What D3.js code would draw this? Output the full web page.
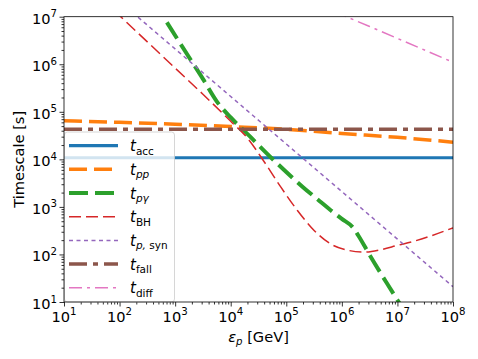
<!DOCTYPE html>
<html>
<head>
<meta charset="utf-8">
<script src="https://cdn.jsdelivr.net/npm/d3@7/dist/d3.min.js"></script>
<style>
body { margin: 0; background: #fff; }
svg { font-family: "DejaVu Sans", sans-serif; }
</style>
</head>
<body>
<div id="chart"></div>
<script>
const WIDTH = 478;
const HEIGHT = 359;
const LEFT = 64, RIGHT = 453, TOP = 16.7, BOTTOM = 302;

// tick values (decades)
const xTicks = [1e1, 1e2, 1e3, 1e4, 1e5, 1e6, 1e7, 1e8];
const yTicks = [1e1, 1e2, 1e3, 1e4, 1e5, 1e6, 1e7];

// energies [GeV] and timescales [s]
const accE = [1e1, 1e8];
const accT = [1.08e4, 1.08e4];

const ppE = [1e1, 1e2, 1e3, 1e4, 1e5, 1e6, 1e7, 1e8];
const ppT = [6.5e4, 6.0e4, 5.5e4, 4.9e4, 4.3e4, 3.5e4, 2.9e4, 2.3e4];

const pgE = [7.1e2, 1.6e3, 3.2e3, 5.6e3, 1e4, 2.24e4, 5.0e4, 1e5, 2e5, 4e5, 6.3e5, 1e6, 1.6e6, 2e6, 3.2e6, 6.3e6, 1e7, 1.6e7];
const pgT = [7.6e6, 1.7e6, 4.8e5, 1.66e5, 7.6e4, 3.0e4, 1.17e4, 5.4e3, 2.6e3, 1.32e3, 850, 560, 363, 245, 95, 26, 11, 4.7];

const bhE = [80, 316, 1e3, 3162, 1e4, 2e4, 4e4, 8e4, 1.6e5, 3.2e5, 6.3e5, 1.26e6, 2.5e6, 5e6, 1e7, 2e7, 4e7, 1e8];
const bhT = [1.35e7, 2.95e6, 8.3e5, 2.34e5, 6.3e4, 2.8e4, 8.9e3, 2.6e3, 830, 316, 166, 123, 112, 126, 155, 190, 245, 363];

const synE = [1e1, 1e2, 1e3, 1e4, 1e5, 1e6, 1e7, 1e8];
const synT = [2.1e8, 2.1e7, 2.1e6, 2.1e5, 2.1e4, 2.1e3, 210, 21];

const fallE = [1e1, 1e8];
const fallT = [4.3e4, 4.3e4];

const diffE = [1e5, 1e6, 1e7, 1e8];
const diffT = [3.5e7, 1.1e7, 3.5e6, 1.1e6];

var zip = function (a, b) {
    return a.map(function (v, i) { return [v, b[i]]; });
};

// label parts: [text, italic]
var series = [
    {data: zip(accE, accT), color: '#1f77b4', width: 3.2, dash: null, sub: [['acc', false]]},
    {data: zip(ppE, ppT), color: '#ff7f0e', width: 3.5, dash: '18,7', sub: [['pp', true]]},
    {data: zip(pgE, pgT), color: '#2ca02c', width: 4, dash: '19,7', sub: [['p\u03b3', true]]},
    {data: zip(bhE, bhT), color: '#d62728', width: 1.5, dash: '12,5', sub: [['BH', false]]},
    {data: zip(synE, synT), color: '#9467bd', width: 1.5, dash: '4,3.5', sub: [['p,', true], [' syn', false]]},
    {data: zip(fallE, fallT), color: '#8c564b', width: 3.5, dash: '18,6,5,6', sub: [['fall', false]]},
    {data: zip(diffE, diffT), color: '#e377c2', width: 1.5, dash: '13,5,3,5', sub: [['diff', false]]}
];

var translate = function (x, y) {
    return 'translate(' + x + ',' + y + ')';
};

var svg = d3.select('#chart').append('svg')
    .attr('width', WIDTH)
    .attr('height', HEIGHT);

var xScale = d3.scaleLog().domain([1e1, 1e8]).range([LEFT, RIGHT]);
var yScale = d3.scaleLog().domain([1e1, 1e7]).range([BOTTOM, TOP]);

var minors = function (lo, hi) {
    var out = [];
    for (var p = lo; p < hi; p++) {
        for (var k = 2; k < 10; k++) out.push(k * Math.pow(10, p));
    }
    return out;
};

// axes (ticks only, labels drawn separately for superscripts)
var drawAxis = function (axis, tr) {
    var g = svg.append('g').attr('transform', tr).call(axis);
    g.select('.domain').remove();
    g.selectAll('line').attr('stroke', '#000').attr('stroke-width', 0.8);
    g.selectAll('text').remove();
    return g;
};
drawAxis(d3.axisBottom(xScale).tickValues(xTicks).tickSize(4.5), translate(0, BOTTOM));
drawAxis(d3.axisBottom(xScale).tickValues(minors(1, 8)).tickSize(2.5), translate(0, BOTTOM));
drawAxis(d3.axisLeft(yScale).tickValues(yTicks).tickSize(4.5), translate(LEFT, 0));
drawAxis(d3.axisLeft(yScale).tickValues(minors(1, 7)).tickSize(2.5), translate(LEFT, 0));

var expLabel = function (sel, v) {
    sel.text('10');
    sel.append('tspan')
        .attr('font-size', 10.2)
        .attr('dy', -6.5)
        .text(Math.round(Math.log10(v)));
};

svg.append('g').selectAll('text').data(xTicks).enter().append('text')
    .attr('x', function (d) { return xScale(d); })
    .attr('y', BOTTOM + 19.5)
    .attr('text-anchor', 'middle')
    .attr('font-size', 14.6)
    .each(function (d) { expLabel(d3.select(this), d); });

svg.append('g').selectAll('text').data(yTicks).enter().append('text')
    .attr('x', LEFT - 7)
    .attr('y', function (d) { return yScale(d) + 7; })
    .attr('text-anchor', 'end')
    .attr('font-size', 14.6)
    .each(function (d) { expLabel(d3.select(this), d); });

// axis titles
var xl = svg.append('text')
    .attr('x', (LEFT + RIGHT) / 2)
    .attr('y', 341.5)
    .attr('text-anchor', 'middle')
    .attr('font-size', 14.6);
xl.append('tspan').attr('font-style', 'italic').text('\u03b5');
xl.append('tspan').attr('font-style', 'italic').attr('font-size', 10.2).attr('dy', 3.5).text('p');
xl.append('tspan').attr('dy', -3.5).text(' [GeV]');

svg.append('text')
    .attr('transform', translate(23.5, (TOP + BOTTOM) / 2) + ' rotate(-90)')
    .attr('text-anchor', 'middle')
    .attr('font-size', 14.6)
    .text('Timescale [s]');

// curves
svg.append('clipPath').attr('id', 'plot-clip')
    .append('rect')
    .attr('x', LEFT).attr('y', TOP)
    .attr('width', RIGHT - LEFT).attr('height', BOTTOM - TOP);

var line = d3.line()
    .x(function (d) { return xScale(d[0]); })
    .y(function (d) { return yScale(d[1]); })
    .curve(d3.curveMonotoneX);

var curves = svg.append('g').attr('clip-path', 'url(#plot-clip)');
series.forEach(function (s) {
    curves.append('path')
        .attr('d', line(s.data))
        .attr('fill', 'none')
        .attr('stroke', s.color)
        .attr('stroke-width', s.width)
        .attr('stroke-dasharray', s.dash)
        .attr('stroke-linecap', 'butt');
});

// legend
var legend = svg.append('g');
legend.append('rect')
    .attr('x', 64.5).attr('y', 132)
    .attr('width', 110).attr('height', 170)
    .attr('rx', 3)
    .attr('fill', '#fff').attr('fill-opacity', 0.8)
    .attr('stroke', '#cccccc').attr('stroke-width', 0.8);

series.forEach(function (s, i) {
    var cy = 145.6 + i * 23.7;
    legend.append('line')
        .attr('x1', 69).attr('x2', 118)
        .attr('y1', cy).attr('y2', cy)
        .attr('stroke', s.color)
        .attr('stroke-width', s.width)
        .attr('stroke-dasharray', s.dash);
    var t = legend.append('text')
        .attr('x', 130).attr('y', cy + 5.5)
        .attr('font-size', 15);
    t.append('tspan').attr('font-style', 'italic').text('t');
    s.sub.forEach(function (part, j) {
        var ts = t.append('tspan')
            .attr('font-size', 10.5)
            .attr('font-style', part[1] ? 'italic' : 'normal')
            .text(part[0]);
        if (j === 0) ts.attr('dy', 3.5);
    });
});

// plot frame
svg.append('rect')
    .attr('x', LEFT).attr('y', TOP)
    .attr('width', RIGHT - LEFT).attr('height', BOTTOM - TOP)
    .attr('fill', 'none')
    .attr('stroke', '#000')
    .attr('stroke-width', 0.8);
</script>
</body>
</html>
